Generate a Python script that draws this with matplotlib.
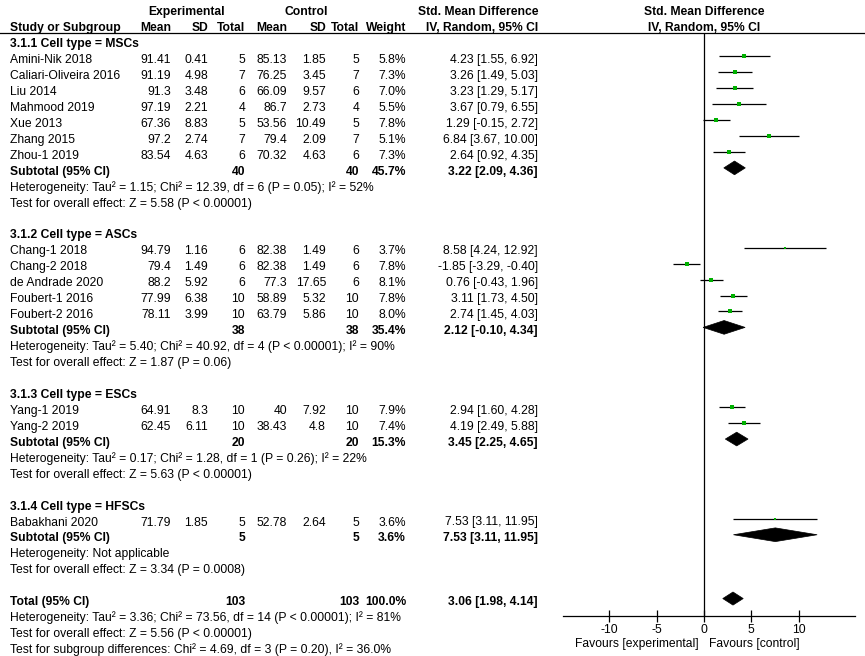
import matplotlib
matplotlib.use("Agg")
import matplotlib.pyplot as plt
import numpy as np

# ---------------- data ----------------
group_titles = ["3.1.1 Cell type = MSCs", "3.1.2 Cell type = ASCs",
                "3.1.3 Cell type = ESCs", "3.1.4 Cell type = HFSCs"]

studies = [
    ["Amini-Nik 2018", "Caliari-Oliveira 2016", "Liu 2014", "Mahmood 2019",
     "Xue 2013", "Zhang 2015", "Zhou-1 2019"],
    ["Chang-1 2018", "Chang-2 2018", "de Andrade 2020", "Foubert-1 2016", "Foubert-2 2016"],
    ["Yang-1 2019", "Yang-2 2019"],
    ["Babakhani 2020"],
]
exp_mean = [[91.41, 91.19, 91.3, 97.19, 67.36, 97.2, 83.54],
            [94.79, 79.4, 88.2, 77.99, 78.11],
            [64.91, 62.45],
            [71.79]]
exp_sd = [[0.41, 4.98, 3.48, 2.21, 8.83, 2.74, 4.63],
          [1.16, 1.49, 5.92, 6.38, 3.99],
          [8.3, 6.11],
          [1.85]]
exp_n = [[5, 7, 6, 4, 5, 7, 6],
         [6, 6, 6, 10, 10],
         [10, 10],
         [5]]
ctl_mean = [[85.13, 76.25, 66.09, 86.7, 53.56, 79.4, 70.32],
            [82.38, 82.38, 77.3, 58.89, 63.79],
            [40, 38.43],
            [52.78]]
ctl_sd = [[1.85, 3.45, 9.57, 2.73, 10.49, 2.09, 4.63],
          [1.49, 1.49, 17.65, 5.32, 5.86],
          [7.92, 4.8],
          [2.64]]
ctl_n = [[5, 7, 6, 4, 5, 7, 6],
         [6, 6, 6, 10, 10],
         [10, 10],
         [5]]
weight = [[5.8, 7.3, 7.0, 5.5, 7.8, 5.1, 7.3],
          [3.7, 7.8, 8.1, 7.8, 8.0],
          [7.9, 7.4],
          [3.6]]
smd = [[4.23, 3.26, 3.23, 3.67, 1.29, 6.84, 2.64],
       [8.58, -1.85, 0.76, 3.11, 2.74],
       [2.94, 4.19],
       [7.53]]
ci_lo = [[1.55, 1.49, 1.29, 0.79, -0.15, 3.67, 0.92],
         [4.24, -3.29, -0.43, 1.73, 1.45],
         [1.60, 2.49],
         [3.11]]
ci_hi = [[6.92, 5.03, 5.17, 6.55, 2.72, 10.00, 4.35],
         [12.92, -0.40, 1.96, 4.50, 4.03],
         [4.28, 5.88],
         [11.95]]

sub_exp_n = [40, 38, 20, 5]
sub_ctl_n = [40, 38, 20, 5]
sub_weight = [45.7, 35.4, 15.3, 3.6]
sub_smd = [3.22, 2.12, 3.45, 7.53]
sub_lo = [2.09, -0.10, 2.25, 3.11]
sub_hi = [4.36, 4.34, 4.65, 11.95]
sub_het = ["Heterogeneity: Tau² = 1.15; Chi² = 12.39, df = 6 (P = 0.05); I² = 52%",
           "Heterogeneity: Tau² = 5.40; Chi² = 40.92, df = 4 (P < 0.00001); I² = 90%",
           "Heterogeneity: Tau² = 0.17; Chi² = 1.28, df = 1 (P = 0.26); I² = 22%",
           "Heterogeneity: Not applicable"]
sub_test = ["Test for overall effect: Z = 5.58 (P < 0.00001)",
            "Test for overall effect: Z = 1.87 (P = 0.06)",
            "Test for overall effect: Z = 5.63 (P < 0.00001)",
            "Test for overall effect: Z = 3.34 (P = 0.0008)"]

total_exp_n = 103
total_ctl_n = 103
total_weight = 100.0
total_smd = 3.06
total_lo = 1.98
total_hi = 4.14
total_lines = ["Heterogeneity: Tau² = 3.36; Chi² = 73.56, df = 14 (P < 0.00001); I² = 81%",
               "Test for overall effect: Z = 5.56 (P < 0.00001)",
               "Test for subgroup differences: Chi² = 4.69, df = 3 (P = 0.20), I² = 36.0%"]

axis_ticks = [-10, -5, 0, 5, 10]
favours_left = "Favours [experimental]"
favours_right = "Favours [control]"

# ---------------- layout ----------------
W, H = 865, 656
PITCH = 15.95          # pixels per row
ROW0 = 40.3            # pixel y of first row's marks
TXT = 6.7 / PITCH      # baseline offset of text under mark centre
FS = 8.7
FONT = "Liberation Sans"
GREEN = "#00b000"

col_name = 10
col_right = dict(em=171, esd=208, en=245, cm=287, csd=326, cn=359, w=406, ci=538)

fig = plt.figure(figsize=(W / 100, H / 100), dpi=100)
ax = fig.add_axes([0, 0, 1, 1])
ax.set_xlim(0, W)
ytop = -ROW0 / PITCH
ybot = (H - ROW0) / PITCH
ax.set_ylim(ybot, ytop)
ax.axis("off")

fx0, fx1 = 563, 855
axf = fig.add_axes([fx0 / W, 0, (fx1 - fx0) / W, 1])
axf.set_xlim(-14.9, 15.95)
axf.set_ylim(ybot, ytop)
axf.patch.set_visible(False)


def t(x, row, s, ha="left", bold=False, a=None):
    (a or ax).text(x, row + TXT, s, ha=ha, va="baseline", fontsize=FS,
                   family=FONT, fontweight="bold" if bold else "normal", color="black")


def fmt(v):
    return f"{v:g}"


def ci_str(m, lo, hi):
    return f"{m:.2f} [{lo:.2f}, {hi:.2f}]"


# headers
t(187, -2, "Experimental", ha="center", bold=True)
t(306, -2, "Control", ha="center", bold=True)
t(col_right["ci"], -2, "Std. Mean Difference", ha="right", bold=True)
t(col_name, -1, "Study or Subgroup", bold=True)
for k, s in zip(["em", "esd", "en", "cm", "csd", "cn", "w", "ci"],
                ["Mean", "SD", "Total", "Mean", "SD", "Total", "Weight", "IV, Random, 95% CI"]):
    t(col_right[k], -1, s, ha="right", bold=True)
t(0, -2, "Std. Mean Difference", ha="center", bold=True, a=axf)
t(0, -1, "IV, Random, 95% CI", ha="center", bold=True, a=axf)
header_line = -0.46
ax.axhline(header_line, color="black", lw=0.9)


def diamond(m, lo, hi, row, h=0.43):
    axf.fill([lo, m, hi, m], [row, row - h, row, row + h], color="black", lw=0.5)


row = 0
for g in range(len(group_titles)):
    t(col_name, row, group_titles[g], bold=True)
    row += 1
    for i in range(len(studies[g])):
        t(col_name, row, studies[g][i])
        t(col_right["em"], row, fmt(exp_mean[g][i]), ha="right")
        t(col_right["esd"], row, fmt(exp_sd[g][i]), ha="right")
        t(col_right["en"], row, str(exp_n[g][i]), ha="right")
        t(col_right["cm"], row, fmt(ctl_mean[g][i]), ha="right")
        t(col_right["csd"], row, fmt(ctl_sd[g][i]), ha="right")
        t(col_right["cn"], row, str(ctl_n[g][i]), ha="right")
        t(col_right["w"], row, f"{weight[g][i]:.1f}%", ha="right")
        t(col_right["ci"], row, ci_str(smd[g][i], ci_lo[g][i], ci_hi[g][i]), ha="right")
        axf.hlines(row, ci_lo[g][i], ci_hi[g][i], color="black", lw=0.9)
        side_px = 1.45 * np.sqrt(weight[g][i])
        axf.plot(smd[g][i], row, marker="s", ms=side_px * 0.72, color=GREEN, mec=GREEN, mew=0)
        row += 1
    t(col_name, row, "Subtotal (95% CI)", bold=True)
    t(col_right["en"], row, str(sub_exp_n[g]), ha="right", bold=True)
    t(col_right["cn"], row, str(sub_ctl_n[g]), ha="right", bold=True)
    t(col_right["w"], row, f"{sub_weight[g]:.1f}%", ha="right", bold=True)
    t(col_right["ci"], row, ci_str(sub_smd[g], sub_lo[g], sub_hi[g]), ha="right", bold=True)
    diamond(sub_smd[g], sub_lo[g], sub_hi[g], row)
    row += 1
    t(col_name, row, sub_het[g])
    row += 1
    t(col_name, row, sub_test[g])
    row += 2

t(col_name, row, "Total (95% CI)", bold=True)
t(col_right["en"], row, str(total_exp_n), ha="right", bold=True)
t(col_right["cn"], row, str(total_ctl_n), ha="right", bold=True)
t(col_right["w"], row, f"{total_weight:.1f}%", ha="right", bold=True)
t(col_right["ci"], row, ci_str(total_smd, total_lo, total_hi), ha="right", bold=True)
diamond(total_smd, total_lo, total_hi, row, h=0.41)
total_row = row
for s in total_lines:
    row += 1
    t(col_name, row, s)

# forest axis
axis_row = (616 - ROW0) / PITCH
axf.vlines(0, header_line, axis_row, color="black", lw=0.9)
for side in ["top", "left", "right"]:
    axf.spines[side].set_visible(False)
axf.spines["bottom"].set_position(("data", axis_row))
axf.spines["bottom"].set_linewidth(0.9)
axf.set_yticks([])
axf.set_xticks(axis_ticks)
axf.set_xticklabels([str(v) for v in axis_ticks], fontsize=FS, family=FONT)
axf.tick_params(axis="x", direction="inout", length=9, width=0.9, pad=1.5)
fav_row = (647.5 - ROW0) / PITCH - TXT
t(-0.6, fav_row, favours_left, ha="right", a=axf)
t(0.5, fav_row, favours_right, ha="left", a=axf)

fig.savefig("out.png", dpi=100)
